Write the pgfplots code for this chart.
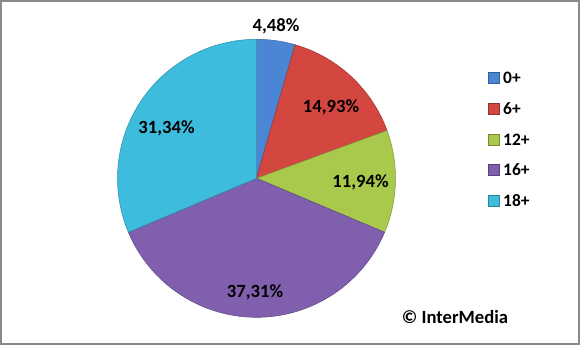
\documentclass[border=0pt]{standalone}
\usepackage{pgfplots}
\pgfplotsset{compat=1.18}
\usepackage{pgfplotstable}
\usepackage{fontspec}
\setmainfont{Carlito}
\definecolor{c0}{HTML}{4A86D4}
\definecolor{c6}{HTML}{D44640}
\definecolor{c12}{HTML}{A8C94C}
\definecolor{c16}{HTML}{7F5FAE}
\definecolor{c18}{HTML}{3DBCDD}
\definecolor{frame}{HTML}{8A8A8A}
\pgfplotstableread{
label value
0+ 4.48
6+ 14.93
12+ 11.94
16+ 37.31
18+ 31.34
}\piedata
\pgfplotstablegetelem{0}{value}\of\piedata \let\vA\pgfplotsretval
\pgfplotstablegetelem{1}{value}\of\piedata \let\vB\pgfplotsretval
\pgfplotstablegetelem{2}{value}\of\piedata \let\vC\pgfplotsretval
\pgfplotstablegetelem{3}{value}\of\piedata \let\vD\pgfplotsretval
\pgfplotstablegetelem{4}{value}\of\piedata \let\vE\pgfplotsretval
\pgfmathsetmacro\aO{90}
\pgfmathsetmacro\aA{\aO-3.6*\vA}
\pgfmathsetmacro\aB{\aA-3.6*\vB}
\pgfmathsetmacro\aC{\aB-3.6*\vC}
\pgfmathsetmacro\aD{\aC-3.6*\vD}
\pgfmathsetmacro\aE{\aD-3.6*\vE}
\newcommand\lblfont{\fontsize{18.7}{20}\selectfont\bfseries}
\newcommand\legfont{\fontsize{17.5}{19}\selectfont\bfseries}
\begin{document}
\begin{tikzpicture}
\begin{axis}[
  x=1bp, y=1bp, scale only axis,
  xmin=0, xmax=580, ymin=0, ymax=345,
  hide axis, clip=false,
]
% background and frame
\fill[white] (axis cs:0,0) rectangle (axis cs:580,345);
\draw[frame, line width=1.6bp] (axis cs:0.8,0.8) rectangle (axis cs:579.2,344.2);
% pie slices (clockwise from 12 o'clock)
\def\cx{256.5}\def\cy{166.7}
\fill[c0, draw=c0!75!black, line width=0.5bp] (axis cs:\cx,\cy) -- ++(\aO:139bp) arc[start angle=\aO, end angle=\aA, radius=139bp] -- cycle;
\fill[c6, draw=c6!75!black, line width=0.5bp] (axis cs:\cx,\cy) -- ++(\aA:139bp) arc[start angle=\aA, end angle=\aB, radius=139bp] -- cycle;
\fill[c12, draw=c12!75!black, line width=0.5bp] (axis cs:\cx,\cy) -- ++(\aB:139bp) arc[start angle=\aB, end angle=\aC, radius=139bp] -- cycle;
\fill[c16, draw=c16!75!black, line width=0.5bp] (axis cs:\cx,\cy) -- ++(\aC:139bp) arc[start angle=\aC, end angle=\aD, radius=139bp] -- cycle;
\fill[c18, draw=c18!75!black, line width=0.5bp] (axis cs:\cx,\cy) -- ++(\aD:139bp) arc[start angle=\aD, end angle=\aE, radius=139bp] -- cycle;
% data labels
\node[anchor=base, font=\lblfont, inner sep=0] at (axis cs:276,314) {4,48\%};
\node[anchor=base, font=\lblfont, inner sep=0] at (axis cs:331,232.5) {14,93\%};
\node[anchor=base, font=\lblfont, inner sep=0] at (axis cs:360.5,158) {11,94\%};
\node[anchor=base, font=\lblfont, inner sep=0] at (axis cs:255,48) {37,31\%};
\node[anchor=base, font=\lblfont, inner sep=0] at (axis cs:166.5,211.5) {31,34\%};
% legend
\fill[c0, draw=c0!70!black, line width=0.4bp] (axis cs:488,261.5) rectangle (axis cs:499,272.5);
\node[anchor=base west, font=\legfont, inner sep=0] at (axis cs:503,261.5) {0+};
\fill[c6, draw=c6!70!black, line width=0.4bp] (axis cs:488,230.5) rectangle (axis cs:499,241.5);
\node[anchor=base west, font=\legfont, inner sep=0] at (axis cs:503,230.5) {6+};
\fill[c12, draw=c12!70!black, line width=0.4bp] (axis cs:488,199.5) rectangle (axis cs:499,210.5);
\node[anchor=base west, font=\legfont, inner sep=0] at (axis cs:503,199.5) {12+};
\fill[c16, draw=c16!70!black, line width=0.4bp] (axis cs:488,169.5) rectangle (axis cs:499,180.5);
\node[anchor=base west, font=\legfont, inner sep=0] at (axis cs:503,169.5) {16+};
\fill[c18, draw=c18!70!black, line width=0.4bp] (axis cs:488,138.5) rectangle (axis cs:499,149.5);
\node[anchor=base west, font=\legfont, inner sep=0] at (axis cs:503,138.5) {18+};
% copyright
\node[anchor=base, font=\lblfont, inner sep=0] at (axis cs:455,22) {© InterMedia};
\end{axis}
\end{tikzpicture}
\end{document}
